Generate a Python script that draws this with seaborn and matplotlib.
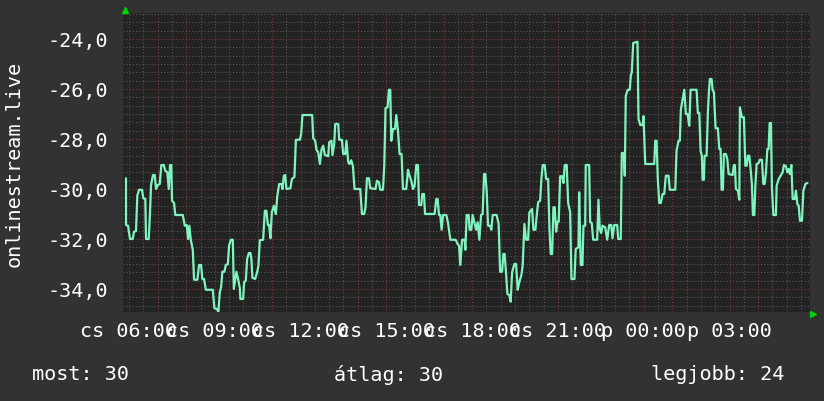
import numpy as np
import pandas as pd
import matplotlib
matplotlib.use("Agg")
import matplotlib.pyplot as plt
import seaborn as sns

# minutes after 06:00 (start of the day shown) and the measured value
minutes = [
    -6.3, -6.3, -2.1, 2.1, 7.8, 10.5, 14.7, 17.4, 21.0, 27.3,
    30.0, 34.2, 35.7, 41.4, 44.1, 46.2, 50.4, 54.0, 56.7, 60.3,
    64.5, 67.8, 72.9, 76.2, 80.4, 83.4, 86.1, 88.8, 90.3, 94.5,
    97.2, 112.8, 117.0, 121.2, 123.9, 126.6, 129.6, 133.8, 136.5, 143.4,
    147.0, 151.2, 153.9, 157.5, 161.1, 175.8, 179.1, 184.2, 187.5, 190.5,
    193.2, 195.9, 200.1, 203.1, 207.3, 210.0, 213.6, 217.8, 219.9, 225.3,
    228.9, 232.5, 233.7, 239.4, 241.5, 245.0, 247.8, 251.4, 254.7, 256.8,
    258.9, 264.6, 268.8, 271.5, 274.5, 281.4, 285.0, 288.3, 291.3, 294.0,
    296.7, 299.7, 303.9, 308.1, 310.8, 315.0, 319.8, 321.9, 324.9, 327.6,
    330.3, 338.7, 341.7, 347.1, 350.1, 358.5, 361.2, 363.9, 384.3, 386.4,
    390.6, 393.3, 396.9, 400.5, 403.8, 407.4, 411.0, 417.9, 420.0, 424.8,
    426.9, 430.5, 432.6, 438.9, 441.0, 446.7, 449.4, 453.6, 456.3, 459.9,
    462.6, 466.2, 469.8, 473.1, 485.1, 488.7, 493.5, 496.2, 499.2, 503.4,
    506.1, 517.2, 520.2, 524.4, 527.1, 532.8, 535.5, 538.2, 542.4, 545.4,
    548.1, 550.2, 553.8, 558.0, 560.7, 564.3, 567.6, 571.8, 574.8, 581.7,
    585.3, 588.6, 592.2, 595.8, 599.1, 602.7, 606.3, 608.4, 613.2, 615.3,
    618.9, 621.0, 641.1, 644.7, 647.4, 650.4, 653.1, 655.8, 658.8, 665.7,
    669.3, 674.1, 685.2, 689.4, 692.4, 695.1, 698.7, 704.1, 705.6, 708.3,
    712.5, 714.6, 718.2, 720.9, 724.5, 728.1, 731.4, 735.0, 738.6, 741.9,
    744.9, 747.6, 750.3, 753.3, 757.5, 760.2, 762.9, 771.3, 775.5, 778.5,
    782.7, 785.4, 788.1, 791.1, 793.8, 798.0, 800.7, 803.7, 808.5, 812.1,
    815.4, 819.0, 823.2, 825.9, 829.5, 833.1, 837.3, 840.0, 845.7, 848.4,
    852.6, 855.3, 858.3, 862.5, 865.2, 867.9, 872.1, 875.1, 879.3, 882.0,
    884.7, 887.7, 890.4, 893.1, 896.1, 898.8, 901.5, 904.5, 908.7, 911.4,
    914.1, 918.3, 921.3, 925.5, 928.2, 934.5, 937.2, 942.9, 944.4, 947.7,
    951.3, 953.4, 957.0, 958.2, 965.4, 967.5, 970.8, 973.8, 982.2, 984.9,
    987.6, 990.6, 993.3, 999.0, 1003.2, 1007.4, 1011.6, 1014.3, 1017.9, 1024.2,
    1026.3, 1031.7, 1033.8, 1038.0, 1040.1, 1042.2, 1046.4, 1050.6, 1052.7, 1054.8,
    1057.8, 1066.8, 1068.9, 1072.5, 1077.3, 1079.4, 1083.0, 1101.9, 1104.0, 1106.7,
    1109.4, 1112.4, 1115.7, 1119.3, 1122.9, 1126.2, 1131.9, 1134.6, 1146.0, 1148.7,
    1152.9, 1155.6, 1157.7, 1161.3, 1164.9, 1168.2, 1171.8, 1175.4, 1178.1, 1190.7,
    1193.4, 1196.4, 1199.1, 1201.8, 1203.3, 1206.0, 1207.5, 1211.7, 1214.4, 1216.5,
    1218.6, 1222.2, 1224.3, 1227.0, 1230.6, 1235.4, 1238.4, 1241.1, 1243.2, 1245.9,
    1248.0, 1252.2, 1255.2, 1257.9, 1266.3, 1269.0, 1271.1, 1273.2, 1277.4, 1280.4,
    1281.6, 1285.8, 1290.0, 1293.0, 1295.7, 1298.4, 1301.4, 1304.1, 1306.8, 1308.9,
    1311.9, 1314.0, 1316.7, 1320.9, 1323.6, 1327.8, 1330.8, 1333.5, 1336.2, 1339.2,
    1341.9, 1344.0, 1346.7, 1348.8, 1351.8, 1357.2, 1358.7, 1362.9, 1367.1, 1371.3,
    1374.0, 1378.2, 1381.2, 1383.9, 1386.6, 1389.6, 1392.3, 1396.5, 1399.2, 1402.2,
    1404.9, 1407.6, 1411.8, 1414.8, 1419.0, 1423.2,
]
values = [
    -29.57, -31.44, -31.47, -32.0, -32.0, -31.71, -31.68, -30.27, -30.03, -30.03,
    -30.37, -30.4, -32.0, -32.0, -30.93, -29.84, -29.44, -29.44, -30.0, -29.84,
    -29.8, -29.04, -29.04, -29.27, -29.33, -30.0, -29.04, -29.04, -30.47, -30.56,
    -31.04, -31.04, -31.47, -31.44, -32.0, -31.47, -32.03, -32.43, -33.63, -33.63,
    -33.04, -33.04, -33.6, -33.6, -34.03, -34.03, -34.77, -34.8, -34.9, -34.13,
    -33.93, -33.31, -33.31, -33.04, -33.01, -32.27, -32.03, -32.03, -34.0, -33.31,
    -33.6, -33.97, -34.4, -34.4, -33.73, -33.67, -32.8, -32.56, -32.56, -32.8,
    -33.55, -33.6, -33.33, -33.07, -32.05, -32.03, -30.87, -30.87, -31.44, -31.44,
    -31.97, -30.93, -30.67, -31.0, -30.33, -29.8, -29.8, -30.0, -29.47, -29.44,
    -30.0, -29.97, -29.6, -29.52, -28.03, -28.03, -27.8, -27.04, -27.04, -27.97,
    -28.07, -28.43, -28.53, -29.0, -28.43, -28.27, -28.64, -28.69, -28.13, -28.07,
    -28.64, -28.2, -27.4, -27.4, -28.03, -28.03, -28.6, -28.6, -28.07, -28.93,
    -29.0, -28.85, -29.09, -30.0, -30.0, -31.0, -31.0, -30.73, -29.57, -29.57,
    -29.97, -30.0, -29.67, -29.73, -30.03, -30.03, -29.07, -26.77, -26.73, -26.03,
    -26.03, -28.07, -27.6, -27.6, -27.04, -27.67, -28.6, -28.6, -30.0, -30.0,
    -29.23, -29.47, -29.67, -30.0, -29.87, -29.04, -29.04, -30.64, -30.64, -30.2,
    -30.2, -31.0, -31.0, -30.4, -30.4, -31.04, -31.04, -31.63, -31.04, -31.04,
    -31.36, -32.03, -32.03, -32.2, -32.27, -33.04, -32.03, -32.03, -32.43, -31.04,
    -31.04, -31.63, -31.63, -31.04, -31.33, -31.63, -31.33, -32.03, -31.04, -31.0,
    -29.4, -29.4, -30.07, -31.47, -31.47, -31.63, -31.04, -31.04, -31.4, -33.31,
    -33.31, -32.6, -32.6, -33.4, -34.2, -34.24, -34.51, -33.33, -33.0, -33.0,
    -34.03, -33.71, -33.44, -33.07, -31.4, -32.03, -32.03, -30.93, -30.8, -31.63,
    -31.63, -31.07, -30.53, -30.47, -29.6, -29.04, -29.04, -29.6, -29.6, -31.57,
    -32.6, -32.6, -30.73, -30.73, -31.71, -31.31, -31.31, -29.49, -29.49, -29.76,
    -29.04, -29.04, -30.56, -30.93, -33.6, -33.6, -32.4, -32.33, -30.13, -33.04,
    -33.04, -31.47, -31.47, -29.04, -29.04, -31.33, -31.36, -32.03, -32.03, -30.43,
    -31.6, -31.76, -31.47, -31.53, -32.03, -31.44, -31.44, -31.97, -31.44, -31.44,
    -32.0, -32.0, -28.56, -28.56, -29.47, -26.27, -26.03, -26.03, -25.47, -25.33,
    -24.16, -24.11, -27.2, -27.44, -27.44, -27.09, -29.0, -29.0, -28.07, -28.07,
    -29.6, -30.56, -30.56, -30.2, -30.2, -29.47, -29.47, -30.03, -30.03, -28.47,
    -28.07, -28.07, -26.83, -26.43, -26.03, -27.0, -27.0, -27.47, -26.03, -26.03,
    -26.96, -26.96, -28.47, -28.67, -29.63, -29.63, -28.67, -28.67, -26.96, -26.13,
    -25.6, -25.6, -26.03, -26.13, -27.57, -27.57, -28.4, -28.4, -30.03, -30.03,
    -28.6, -28.6, -28.8, -29.4, -29.44, -29.04, -29.04, -30.0, -30.07, -30.43,
    -26.73, -27.13, -27.13, -29.07, -29.07, -28.67, -28.67, -29.2, -29.8, -31.04,
    -31.04, -29.87, -29.0, -28.96, -28.83, -28.83, -29.8, -29.8, -29.36, -28.4,
    -28.4, -27.36, -27.36, -29.93, -31.04, -31.04, -29.87, -29.6, -29.47, -29.33,
    -29.04, -29.09, -29.33, -29.2, -29.4, -29.04, -30.4, -30.4, -30.07, -30.6,
    -30.67, -31.27, -31.27, -30.07, -29.8, -29.76,
]

tick_hours = [6, 9, 12, 15, 18, 21, 24, 27]
tick_labels = ["cs 06:00", "cs 09:00", "cs 12:00", "cs 15:00",
               "cs 18:00", "cs 21:00", "p 00:00", "p 03:00"]
y_ticks = [-34, -32, -30, -28, -26, -24]
y_label = "onlinestream.live"
summary = [("most: 30", 32), ("átlag: 30", 334), ("legjobb: 24", 651)]

sns.set_style("dark")
plt.rcParams["font.family"] = ["DejaVu Sans Mono", "DejaVu Sans"]

df = pd.DataFrame({"hour": 6 + np.array(minutes) / 60.0, "value": values})

W, H = 824, 402
fig = plt.figure(figsize=(W / 100, H / 100), dpi=100, facecolor="#323232")
ax = fig.add_axes([123 / W, 1 - 312.5 / H, 687 / W, 299 / H])
ax.set_facecolor("#232323")

x0, x1 = 6 - 6 / 28.6, 6 - 6 / 28.6 + 687 / 28.6
y0, y1 = -34.9, -22.94

# rrdtool style dotted grid
for h in np.arange(5.5, 30.5, 0.5):
    major = abs(h - round(h)) < 1e-6
    ax.axvline(h, color="#8a3a3a" if major else "#5a5a5a", lw=0.75,
               ls=(0, (1, 2)), zorder=1)
for v in np.arange(-36, -22, 1 / 3):
    major = abs(v / 2 - round(v / 2)) < 1e-6
    ax.axhline(v, color="#8a3a3a" if major else "#5a5a5a", lw=0.75,
               ls=(0, (1, 2)), zorder=1)

sns.lineplot(data=df, x="hour", y="value", ax=ax, color="#80f4be",
             linewidth=1.6, estimator=None, sort=False, zorder=3)

ax.set_xlim(x0, x1)
ax.set_ylim(y0, y1)
ax.grid(False)
for s in ax.spines.values():
    s.set_visible(False)

ax.set_xticks(tick_hours, tick_labels)
ax.set_yticks(y_ticks, [f"{t:.1f}".replace(".", ",") for t in y_ticks])
ax.tick_params(axis="both", length=0, colors="white", labelsize=14.5)
ax.tick_params(axis="y", pad=11)
ax.tick_params(axis="x", pad=7)
ax.set_xlabel("")
ax.set_ylabel("")

fig.text(14 / W, 1 - 164 / H, y_label, rotation=90, ha="center", va="center",
         color="white", fontsize=14.5)

for text, left in summary:
    fig.text(left / W, 1 - 375 / H, text, ha="left", va="center",
             color="white", fontsize=14.5)

# little green arrows at the axis ends
ax.plot([125 / W], [1 - 10.5 / H], marker="^", color="#00d000", markersize=4,
        transform=fig.transFigure, clip_on=False)
ax.plot([813 / W], [1 - 315 / H], marker=">", color="#00d000", markersize=4,
        transform=fig.transFigure, clip_on=False)

fig.savefig("out.png", dpi=100, facecolor=fig.get_facecolor())
